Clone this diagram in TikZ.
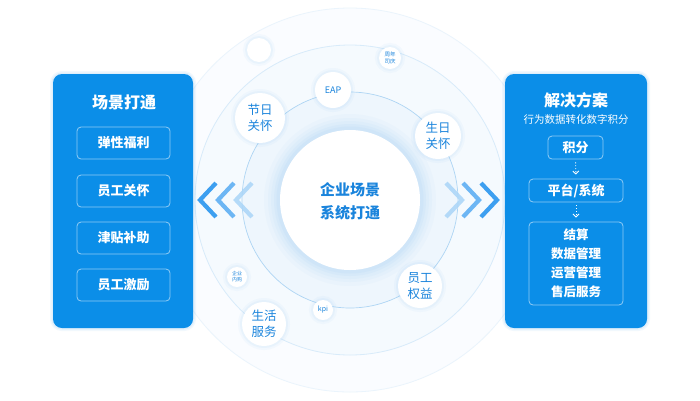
\documentclass[tikz,border=0pt]{standalone}
\usepackage{fontspec}
\setmainfont{Noto Sans CJK SC}
\usetikzlibrary{arrows.meta}
\definecolor{panel}{HTML}{0B8EE8}
\definecolor{txtblue}{HTML}{1A84DC}
\definecolor{ringA}{HTML}{FAFCFF}
\definecolor{ringB}{HTML}{F5FAFE}
\definecolor{ringC}{HTML}{EEF6FD}
\definecolor{lineA}{HTML}{EAF4FC}
\definecolor{lineB}{HTML}{D8EBFA}
\definecolor{lineC}{HTML}{AED5F4}
\definecolor{glow}{HTML}{7FBDF0}
\definecolor{chevA}{HTML}{3D9FF0}
\definecolor{chevB}{HTML}{6DB6F4}
\definecolor{chevC}{HTML}{A9D5F8}
\tikzset{
  panelbox/.style={fill=panel, rounded corners=9pt,
    preaction={draw=glow, draw opacity=0.10, line width=6pt},
    preaction={draw=glow, draw opacity=0.15, line width=3pt}},
  itembox/.style={draw=white, draw opacity=0.55, line width=0.8pt, rounded corners=4pt, text=white, font=\bfseries\fontsize{13}{16}\selectfont},
  bub/.style={circle, fill=white, inner sep=0pt, text=txtblue, align=center,
    preaction={draw=glow, draw opacity=0.06, line width=8pt},
    preaction={draw=glow, draw opacity=0.08, line width=4pt}},
  chev/.style={line width=4.2pt, line cap=butt, line join=miter},
  flowarrow/.style={draw=white, dotted, line width=0.9pt, -{Straight Barb[length=3pt,width=6pt]}, shorten <=3pt, shorten >=4pt}
}
\begin{document}
\begin{tikzpicture}[x=1pt,y=-1pt]
\useasboundingbox (0,0) rectangle (700,400);
\fill[white] (0,0) rectangle (700,400);
% rings
\coordinate (c) at (350,200);
\fill[ringA] (c) circle (192pt);
\draw[lineA, line width=0.8pt] (c) circle (192pt);
\fill[ringB] (c) circle (155pt);
\draw[lineB, line width=0.8pt] (c) circle (155pt);
\fill[ringC] (c) circle (108pt);
\draw[lineC, line width=0.7pt] (c) circle (108pt);
\foreach \r/\o in {86/0.04,82/0.05,79/0.06,76/0.07,73.5/0.08} {
  \fill[glow, opacity=\o] (c) circle (\r pt);
}
\node[circle, fill=white, minimum size=140pt, inner sep=0pt] (core) at (c) {};
\node[text=txtblue, align=center, font=\bfseries\fontsize{15}{23}\selectfont] (coretxt) at (350,201) {企业场景\\系统打通};
% small bubbles
\node[bub, minimum size=24pt] (dot) at (259,50) {};
\node[bub, minimum size=50pt, font=\fontsize{12.5}{16}\selectfont] (jr) at (260,118) {节日\\关怀};
\node[bub, minimum size=36pt, font=\fontsize{9}{10}\selectfont] (eap) at (333,90) {EAP};
\node[bub, minimum size=22pt, font=\fontsize{5.5}{6.5}\selectfont] (zn) at (390,58) {周年\\司庆};
\node[bub, minimum size=46pt, font=\fontsize{12.5}{16}\selectfont] (sr) at (438,136) {生日\\关怀};
\node[bub, minimum size=20pt, font=\fontsize{5}{6}\selectfont] (ng) at (237,277) {企业\\内购};
\node[bub, minimum size=20pt, font=\fontsize{7}{8}\selectfont] (kpi) at (323,310) {kpi};
\node[bub, minimum size=44pt, font=\fontsize{12.5}{16}\selectfont] (sh) at (264,324) {生活\\服务};
\node[bub, minimum size=44pt, font=\fontsize{12.5}{16}\selectfont] (yg) at (420,286) {员工\\权益};
% chevrons left
\draw[chev, chevC, opacity=0.85] (252,183) -- (236,200) -- (252,217);
\draw[chev, chevB] (234,183) -- (218,200) -- (234,217);
\draw[chev, chevA] (216,183) -- (200,200) -- (216,217);
% chevrons right
\draw[chev, chevC, opacity=0.85] (446,183) -- (462,200) -- (446,217);
\draw[chev, chevB] (463,183) -- (479,200) -- (463,217);
\draw[chev, chevA] (481,183) -- (497,200) -- (481,217);
% left panel
\fill[panelbox] (53,74) rectangle (193,328);
\node[text=white, font=\bfseries\fontsize{16}{18}\selectfont] (lt) at (124,102) {场景打通};
\node[itembox, minimum width=93pt, minimum height=32pt] (l1) at (123.5,143) {弹性福利};
\node[itembox, minimum width=93pt, minimum height=32pt] (l2) at (123.5,191) {员工关怀};
\node[itembox, minimum width=93pt, minimum height=32pt] (l3) at (123.5,238) {津贴补助};
\node[itembox, minimum width=93pt, minimum height=32pt] (l4) at (123.5,285) {员工激励};
% right panel
\fill[panelbox] (505,74) rectangle (647,328);
\node[text=white, font=\bfseries\fontsize{16}{18}\selectfont] (rt) at (576,100) {解决方案};
\node[text=white, font=\fontsize{10.5}{12}\selectfont] (rs) at (576,119) {行为数据转化数字积分};
\node[itembox, minimum width=55pt, minimum height=23pt] (r1) at (575.5,147.5) {积分};
\node[itembox, minimum width=94pt, minimum height=23pt] (r2) at (576,190.5) {平台/系统};
\node[itembox, minimum width=94pt, minimum height=83pt, align=center, font=\bfseries\fontsize{12.5}{19}\selectfont] (r3) at (576,263.5) {结算\\数据管理\\运营管理\\售后服务};
\draw[flowarrow] (r1.south) -- (r2.north);
\draw[flowarrow] (r2.south) -- (r3.north);
\end{tikzpicture}
\end{document}
